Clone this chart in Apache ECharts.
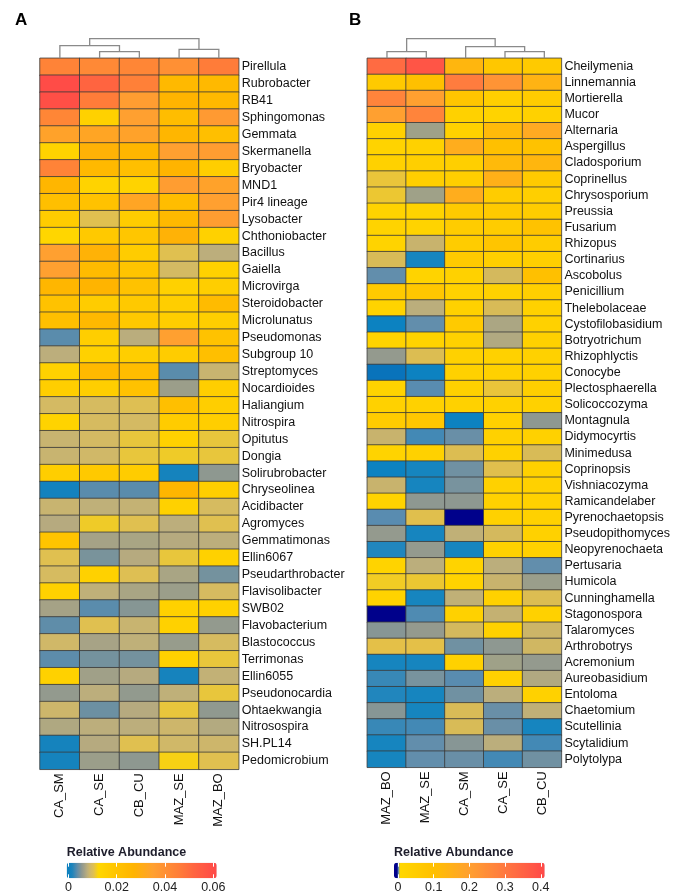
<!DOCTYPE html>
<html><head><meta charset="utf-8">
<script src="https://cdn.jsdelivr.net/npm/echarts@6/dist/echarts.min.js"></script>
<style>html,body{margin:0;padding:0;background:#fff}#c{width:673px;height:895px}</style>
</head><body><div id="c"></div>
<script>
// ---------- Panel A (bacteria) ----------
const colsA = ['CA_SM','CA_SE','CB_CU','MAZ_SE','MAZ_BO'];
const rowsA = ['Pirellula','Rubrobacter','RB41','Sphingomonas','Gemmata','Skermanella','Bryobacter','MND1','Pir4 lineage','Lysobacter','Chthoniobacter','Bacillus','Gaiella','Microvirga','Steroidobacter','Microlunatus','Pseudomonas','Subgroup 10','Streptomyces','Nocardioides','Haliangium','Nitrospira','Opitutus','Dongia','Solirubrobacter','Chryseolinea','Acidibacter','Agromyces','Gemmatimonas','Ellin6067','Pseudarthrobacter','Flavisolibacter','SWB02','Flavobacterium','Blastococcus','Terrimonas','Ellin6055','Pseudonocardia','Ohtaekwangia','Nitrosospira','SH.PL14','Pedomicrobium'];
const A_CA_SM = [0.044,0.060,0.059,0.043,0.034,0.014,0.044,0.026,0.022,0.017,0.013,0.035,0.035,0.026,0.021,0.022,0.0035,0.0078,0.015,0.016,0.0093,0.014,0.0085,0.0085,0.016,0.0005,0.0085,0.0075,0.020,0.0105,0.0095,0.015,0.0067,0.0037,0.009,0.0036,0.015,0.0058,0.0088,0.0072,0.0008,0.0008];
const A_CA_SE = [0.042,0.052,0.046,0.015,0.033,0.028,0.025,0.014,0.021,0.0105,0.018,0.028,0.024,0.027,0.017,0.025,0.016,0.015,0.025,0.016,0.0095,0.0095,0.0093,0.009,0.018,0.0035,0.008,0.0115,0.0067,0.0047,0.015,0.008,0.0035,0.0105,0.0068,0.0045,0.0065,0.0078,0.0042,0.0078,0.0075,0.0062];
const A_CB_CU = [0.043,0.045,0.036,0.035,0.034,0.026,0.022,0.014,0.033,0.017,0.019,0.017,0.020,0.021,0.018,0.018,0.0077,0.016,0.023,0.021,0.0103,0.0093,0.011,0.011,0.017,0.0035,0.0083,0.0105,0.0069,0.0075,0.0103,0.0069,0.0052,0.0085,0.008,0.0045,0.0075,0.0057,0.0075,0.0078,0.0105,0.0055];
const A_MAZ_SE = [0.040,0.025,0.027,0.023,0.026,0.035,0.027,0.036,0.023,0.025,0.028,0.0105,0.0093,0.015,0.016,0.016,0.035,0.017,0.0035,0.0062,0.022,0.017,0.015,0.0115,0.0008,0.026,0.015,0.0078,0.0075,0.011,0.0069,0.0062,0.015,0.015,0.006,0.015,0.0009,0.008,0.011,0.0088,0.009,0.012];
const A_MAZ_BO = [0.046,0.025,0.025,0.037,0.022,0.036,0.016,0.034,0.035,0.036,0.015,0.0078,0.015,0.016,0.024,0.016,0.021,0.022,0.0085,0.016,0.016,0.016,0.011,0.011,0.0055,0.016,0.0095,0.0105,0.0078,0.015,0.0045,0.0095,0.015,0.0058,0.0095,0.011,0.0082,0.011,0.0056,0.0074,0.0088,0.0105];
const ticksA = [0, 0.02, 0.04, 0.06];
// dendrogram merges: [leftX, rightX, leftChildHeight, rightChildHeight, mergeHeight]
const dendroA = [[1.5,2.5,0,0,6.6],[0.5,2.0,0,6.6,12.6],[3.5,4.5,0,0,9],[1.25,4.0,12.6,9,19.6]];

// ---------- Panel B (fungi) ----------
const colsB = ['MAZ_BO','MAZ_SE','CA_SM','CA_SE','CB_CU'];
const rowsB = ['Cheilymenia','Linnemannia','Mortierella','Mucor','Alternaria','Aspergillus','Cladosporium','Coprinellus','Chrysosporium','Preussia','Fusarium','Rhizopus','Cortinarius','Ascobolus','Penicillium','Thelebolaceae','Cystofilobasidium','Botryotrichum','Rhizophlyctis','Conocybe','Plectosphaerella','Solicoccozyma','Montagnula','Didymocyrtis','Minimedusa','Coprinopsis','Vishniacozyma','Ramicandelaber','Pyrenochaetopsis','Pseudopithomyces','Neopyrenochaeta','Pertusaria','Humicola','Cunninghamella','Stagonospora','Talaromyces','Arthrobotrys','Acremonium','Aureobasidium','Entoloma','Chaetomium','Scutellinia','Scytalidium','Polytolypa'];
const B_MAZ_BO = [0.33,0.06,0.27,0.20,0.03,0.02,0.03,0.0042,0.0043,0.02,0.02,0.02,0.0037,0.0016,0.06,0.02,0.0008,0.02,0.0023,0.0007,0.02,0.03,0.05,0.0033,0.02,0.0008,0.0033,0.02,0.0015,0.0023,0.001,0.02,0.0045,0.02,0,0.0021,0.004,0.0009,0.0012,0.001,0.0021,0.0012,0.0009,0.0009];
const B_MAZ_SE = [0.38,0.10,0.20,0.27,0.0025,0.03,0.04,0.04,0.0025,0.02,0.02,0.0033,0.0009,0.02,0.07,0.003,0.0016,0.02,0.0038,0.0008,0.0015,0.03,0.07,0.0013,0.03,0.0009,0.0009,0.0022,0.0039,0.0009,0.0023,0.003,0.0043,0.0009,0.0014,0.0023,0.004,0.0009,0.0019,0.0009,0.0009,0.0013,0.0016,0.0016];
const B_CA_SM = [0.13,0.29,0.08,0.03,0.03,0.16,0.04,0.04,0.16,0.06,0.05,0.05,0.06,0.03,0.03,0.03,0.06,0.03,0.03,0.03,0.03,0.03,0.0008,0.0017,0.0038,0.0018,0.0019,0.0022,0,0.0031,0.0009,0.02,0.02,0.0031,0.03,0.0036,0.0018,0.03,0.0015,0.0018,0.0037,0.0037,0.0021,0.0017];
const B_CA_SE = [0.07,0.23,0.04,0.02,0.12,0.10,0.12,0.15,0.05,0.06,0.05,0.08,0.04,0.0036,0.03,0.0037,0.0027,0.0028,0.03,0.03,0.0042,0.03,0.03,0.03,0.03,0.0039,0.03,0.03,0.03,0.0036,0.03,0.003,0.0033,0.03,0.0032,0.03,0.0022,0.0025,0.03,0.003,0.0017,0.0017,0.003,0.0013];
const B_CB_CU = [0.06,0.14,0.05,0.03,0.17,0.09,0.13,0.06,0.04,0.05,0.09,0.05,0.04,0.10,0.04,0.03,0.03,0.03,0.03,0.03,0.04,0.03,0.0022,0.03,0.0037,0.03,0.03,0.03,0.03,0.03,0.03,0.0016,0.0024,0.0038,0.03,0.0034,0.0035,0.0023,0.0028,0.03,0.0031,0.0009,0.0013,0.0018];
const ticksB = [0, 0.1, 0.2, 0.3, 0.4];
const dendroB = [[0.5,1.5,0,0,6.6],[3.5,4.5,0,0,6.6],[2.5,4.0,0,6.6,11.6],[1.0,3.25,6.6,11.6,19.6]];

// ---------- colour scales ----------
const rangeA = [-0.0007, 0.0614];
const rangeB = [-0.011, 0.411];
const stopsA = [[-0.0007,'#0a80c0'],[0.0015,'#1a84bc'],[0.0035,'#5a8cac'],[0.0055,'#8e9890'],[0.0065,'#a0a088'],[0.0078,'#bcae7c'],[0.009,'#d0b868'],[0.0105,'#e0c050'],[0.0125,'#ffd700'],[0.02,'#ffc400'],[0.027,'#ffb400'],[0.035,'#ffa030'],[0.045,'#ff8038'],[0.052,'#ff6440'],[0.0614,'#ff4848']];
const stopsB = [[-0.011,'#00008b'],[0,'#00008b'],[0.0008,'#0a84c2'],[0.0015,'#5a8cb0'],[0.0022,'#8e9890'],[0.003,'#bcae7c'],[0.004,'#e4c048'],[0.005,'#ffd700'],[0.1,'#ffc000'],[0.2,'#ffa030'],[0.3,'#ff7840'],[0.411,'#ff4848']];

function hexRgb(h){return [parseInt(h.slice(1,3),16),parseInt(h.slice(3,5),16),parseInt(h.slice(5,7),16)];}
function palette(stops, range, n){
  const out=[];
  for(let k=0;k<n;k++){
    const v = range[0]+(range[1]-range[0])*k/(n-1);
    let i=0; while(i<stops.length-2 && v>stops[i+1][0]) i++;
    const a=stops[i], b=stops[i+1];
    let t=(v-a[0])/(b[0]-a[0]); t=Math.max(0,Math.min(1,t));
    const ca=hexRgb(a[1]), cb=hexRgb(b[1]);
    out.push('rgb('+ca.map((c,j)=>Math.round(c+(cb[j]-c)*t)).join(',')+')');
  }
  return out;
}
const palA = palette(stopsA, rangeA, 700);
const palB = palette(stopsB, rangeB, 4300);

function cells(cols){const d=[];cols.forEach((arr,j)=>arr.forEach((v,i)=>d.push([j,i,v])));return d;}
const dataA = cells([A_CA_SM,A_CA_SE,A_CB_CU,A_MAZ_SE,A_MAZ_BO]);
const dataB = cells([B_MAZ_BO,B_MAZ_SE,B_CA_SM,B_CA_SE,B_CB_CU]);

const FF = '"Liberation Sans", Arial, sans-serif';
const chart = echarts.init(document.getElementById('c'), null, {renderer:'canvas'});

function catX(g, cols){return {gridIndex:g,type:'category',data:cols,position:'bottom',axisLine:{show:false},axisTick:{show:false},splitLine:{show:false},axisLabel:{rotate:90,margin:4,fontSize:13,color:'#111',fontFamily:FF,interval:0}};}
function catY(g, rows){return {gridIndex:g,type:'category',data:rows,inverse:true,position:'right',axisLine:{show:false},axisTick:{show:false},splitLine:{show:false},axisLabel:{margin:3,fontSize:12.5,color:'#111',fontFamily:FF,interval:0}};}
function valHidden(g, min, max){return {gridIndex:g,type:'value',min:min,max:max,show:false};}
function legAxis(g, range, ticks, pos, labels){return {gridIndex:g,type:'value',position:pos,min:range[0],max:range[1],z:10,axisLine:{show:false},splitLine:{show:false},
  axisTick:{show:true,inside:true,length:4,lineStyle:{color:'#ffffff',width:1},customValues:ticks},
  axisLabel:{show:labels,customValues:ticks,margin:3,fontSize:12.5,color:'#222',fontFamily:FF}};}

function dendroRender(params, api){
  const xl=api.value(0), xr=api.value(1), hl=api.value(2), hr=api.value(3), h=api.value(4);
  return {type:'polyline',shape:{points:[api.coord([xl,hl]),api.coord([xl,h]),api.coord([xr,h]),api.coord([xr,hr])]},
    style:{stroke:'#8a8a8a',lineWidth:1.3,fill:null}};
}

chart.setOption({
  animation:false,
  backgroundColor:'#ffffff',
  title:[
    {text:'A',left:15,top:12,padding:0,textStyle:{fontSize:17,fontWeight:'bold',color:'#000',fontFamily:FF}},
    {text:'B',left:349,top:12,padding:0,textStyle:{fontSize:17,fontWeight:'bold',color:'#000',fontFamily:FF}},
    {text:'Relative Abundance',left:66.7,top:846,padding:0,textStyle:{fontSize:12.5,fontWeight:'bold',color:'#1d1d2b',fontFamily:FF}},
    {text:'Relative Abundance',left:394,top:846,padding:0,textStyle:{fontSize:12.5,fontWeight:'bold',color:'#1d1d2b',fontFamily:FF}}
  ],
  grid:[
    {left:40,top:58.3,width:198.7,height:711,containLabel:false},
    {left:367.3,top:58.3,width:196.7,height:709,containLabel:false},
    {left:40,top:38.3,width:198.7,height:20},
    {left:367.3,top:38.3,width:196.7,height:20},
    {left:66.7,top:862.7,width:150,height:15.6},
    {left:394,top:862.7,width:150.7,height:15.6}
  ],
  xAxis:[
    catX(0,colsA), catX(1,colsB),
    valHidden(2,0,5), valHidden(3,0,5),
    legAxis(4,rangeA,ticksA,'bottom',true), legAxis(4,rangeA,ticksA,'top',false),
    legAxis(5,rangeB,ticksB,'bottom',true), legAxis(5,rangeB,ticksB,'top',false)
  ],
  yAxis:[
    catY(0,rowsA), catY(1,rowsB),
    valHidden(2,0,20), valHidden(3,0,20),
    valHidden(4,0,1), valHidden(5,0,1)
  ],
  visualMap:[
    {type:'continuous',seriesIndex:0,min:rangeA[0],max:rangeA[1],orient:'horizontal',left:66.7,top:862.7,itemWidth:15.6,itemHeight:150,calculable:false,padding:0,hoverLink:false,inRange:{color:palA}},
    {type:'continuous',seriesIndex:1,min:rangeB[0],max:rangeB[1],orient:'horizontal',left:394,top:862.7,itemWidth:15.6,itemHeight:150.7,calculable:false,padding:0,hoverLink:false,inRange:{color:palB}}
  ],
  series:[
    {type:'heatmap',xAxisIndex:0,yAxisIndex:0,data:dataA,itemStyle:{borderColor:'#3a3a3a',borderWidth:0.8},emphasis:{disabled:true},progressive:0},
    {type:'heatmap',xAxisIndex:1,yAxisIndex:1,data:dataB,itemStyle:{borderColor:'#3a3a3a',borderWidth:0.8},emphasis:{disabled:true},progressive:0},
    {type:'custom',xAxisIndex:2,yAxisIndex:2,data:dendroA,renderItem:dendroRender,silent:true},
    {type:'custom',xAxisIndex:3,yAxisIndex:3,data:dendroB,renderItem:dendroRender,silent:true}
  ]
});
</script></body></html>
